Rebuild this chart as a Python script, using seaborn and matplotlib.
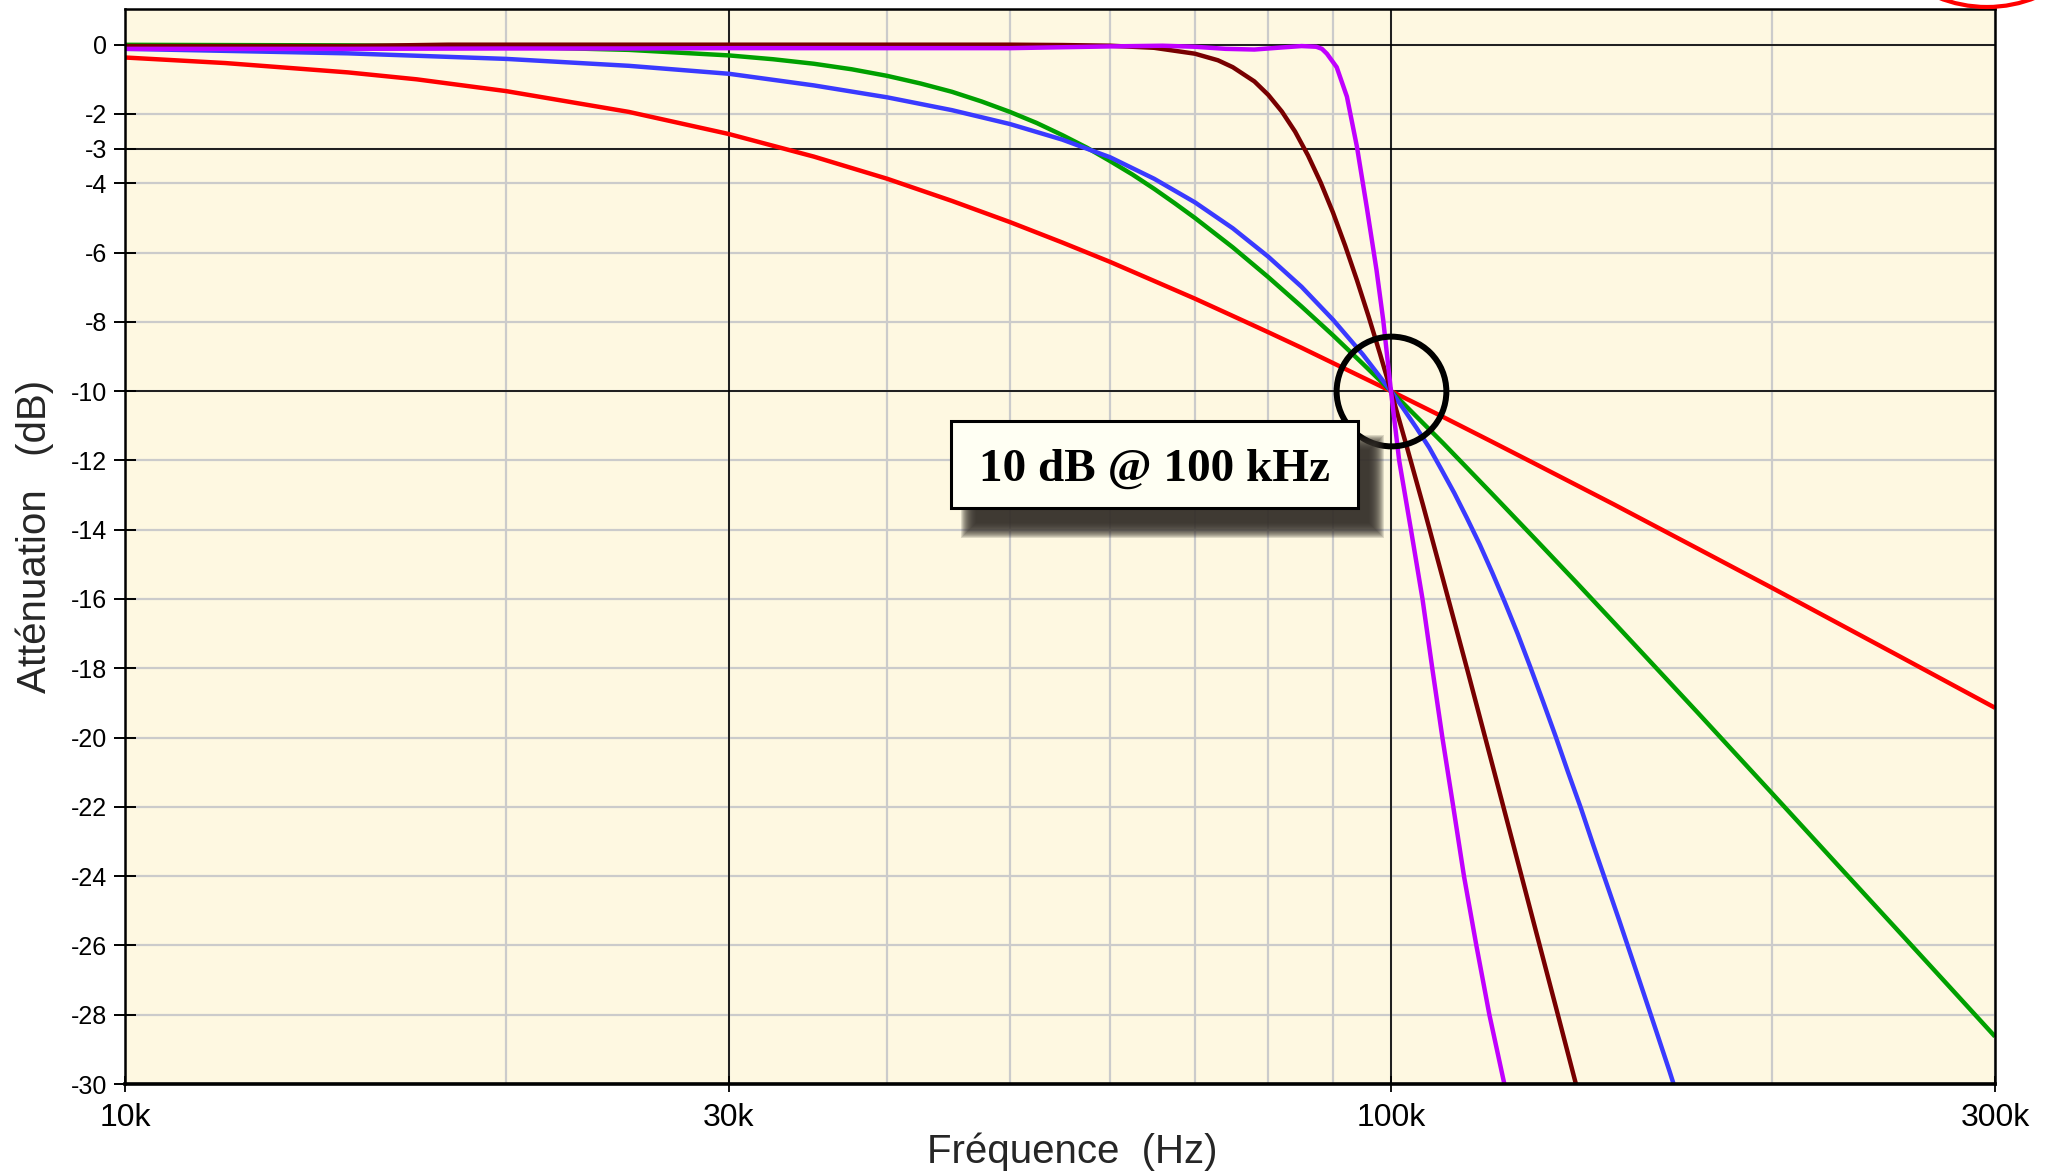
import numpy as np
import pandas as pd
import matplotlib
matplotlib.use("Agg")
import matplotlib.pyplot as plt
import seaborn as sns
from matplotlib.patches import Rectangle, Circle
from matplotlib.ticker import FixedLocator, NullFormatter, FixedFormatter

# ---------------- data (frequency in kHz, attenuation in dB) ----------------
red_f = [10, 12, 15, 17, 20, 25, 30, 35, 40, 45, 50, 55, 60, 65, 70, 75, 80, 85, 90,
         100, 110, 120, 130, 150, 175, 200, 250, 300]
red_db = [-0.37, -0.53, -0.80, -1.00, -1.34, -1.94, -2.58, -3.23, -3.87, -4.51, -5.12,
          -5.71, -6.27, -6.82, -7.33, -7.83, -8.30, -8.75, -9.19,
          -10.0, -10.75, -11.45, -12.10, -13.27, -14.56, -15.68, -17.58, -19.14]

green_f = [10, 15, 20, 25, 30, 32.5, 35, 37.5, 40, 42.5, 45, 47.5, 50, 52.5, 55, 57.5,
           60, 62.5, 65, 67.5, 70, 75, 80, 85, 90, 95,
           100, 110, 120, 130, 140, 150, 160, 175, 200, 225, 250, 275, 300]
green_db = [-0.004, -0.02, -0.06, -0.15, -0.31, -0.42, -0.55, -0.71, -0.90, -1.12,
            -1.36, -1.64, -1.94, -2.26, -2.61, -2.97, -3.36, -3.75, -4.16, -4.58,
            -5.00, -5.85, -6.71, -7.56, -8.39, -9.21,
            -10.0, -11.51, -12.94, -14.27, -15.51, -16.68, -17.78, -19.31, -21.61,
            -23.65, -25.47, -27.12, -28.63]

blue_f = [10, 15, 20, 25, 30, 35, 40, 45, 50, 55, 60, 65, 70, 75, 80, 85, 90, 95,
          100, 102.3, 104.7, 107.2, 109.6, 112.2, 114.8, 117.5, 120.2, 123.0, 125.9,
          128.8, 131.8, 134.9, 138.0, 141.3, 144.5, 147.9, 151.4, 154.9, 158.5, 162.2,
          166.0, 167.2]
blue_db = [-0.12, -0.25, -0.41, -0.61, -0.84, -1.175, -1.52, -1.89, -2.29, -2.74,
           -3.25, -3.87, -4.55, -5.30, -6.12, -6.99, -7.94, -8.94,
           -10.0, -10.51, -11.05, -11.63, -12.26, -12.94, -13.66, -14.42, -15.23,
           -16.09, -17.00, -17.95, -18.94, -19.96, -21.00, -22.05, -23.11, -24.18,
           -25.26, -26.34, -27.43, -28.53, -29.64, -30.0]

brown_f = [10, 15, 18, 30, 40, 50, 55, 60, 65, 70, 73, 75, 78, 80, 82, 84, 86, 88,
           90, 92, 94, 96, 98, 100, 103, 106, 110, 115, 120, 125, 130, 135, 141]
brown_db = [-0.04, -0.04, 0.0, 0.0, 0.0, 0.0, -0.01, -0.03, -0.09, -0.26, -0.45,
            -0.65, -1.06, -1.45, -1.93, -2.51, -3.20, -3.98, -4.85, -5.80, -6.80,
            -7.84, -8.91, -10.0, -11.65, -13.29, -15.47, -18.10, -20.66, -23.13,
            -25.51, -27.79, -30.44]

purple_f = [10, 15, 20, 25, 30, 40, 50, 60, 66, 70, 74, 78, 82, 85, 87.3, 88.2, 89,
            90.6, 92.3, 94, 95.7, 97.4, 98.6, 100, 101.5, 103.7, 105.9, 107.8, 109.8,
            112.0, 114.2, 116.8, 119.6, 122.9]
purple_db = [-0.12, -0.12, -0.11, -0.11, -0.10, -0.10, -0.10, -0.05, -0.03, -0.06,
             -0.12, -0.14, -0.08, -0.04, -0.06, -0.12, -0.26, -0.65, -1.50, -2.95,
             -4.70, -6.50, -7.95, -10.0, -12.0, -14.0, -16.0, -18.0, -20.0, -22.0,
             -24.0, -26.0, -28.0, -30.0]

series_names = ["rouge", "vert", "bleu", "marron", "violet"]
series_colors = ["#ff0000", "#00a000", "#3a3aff", "#780000", "#c000ff"]

x_ticks = [10, 30, 100, 300]
x_ticklabels = ["10k", "30k", "100k", "300k"]
x_minor = [20, 40, 50, 60, 70, 80, 90, 200]
y_ticks = [0, -2, -3, -4, -6, -8, -10, -12, -14, -16, -18, -20, -22, -24, -26, -28, -30]
y_ticklabels = [str(v) for v in y_ticks]
x_major_lines = [30, 100]
y_major_lines = [0, -3, -10]
annot_text = "10 dB @ 100 kHz"
annot_point = (100, -10)

# ---------------- figure ----------------
sns.set_style("ticks")
plt.rcParams['font.family'] = ['Liberation Sans', 'DejaVu Sans']
plt.rcParams['axes.unicode_minus'] = False

W, H = 2057, 1174
fig = plt.figure(figsize=(W / 100, H / 100), dpi=100)
fig.patch.set_facecolor("white")
L, R, T, B = 125, 1995, 9, 1084
ax = fig.add_axes([L / W, 1 - B / H, (R - L) / W, (B - T) / H])
ax.set_facecolor("#fef8e1")

frames = []
for name, f, v in zip(series_names,
                      [red_f, green_f, blue_f, brown_f, purple_f],
                      [red_db, green_db, blue_db, brown_db, purple_db]):
    frames.append(pd.DataFrame({"f": f, "dB": v, "serie": name}))
df = pd.concat(frames, ignore_index=True)

ax.set_xscale("log")
sns.lineplot(data=df, x="f", y="dB", hue="serie", hue_order=series_names,
             palette=dict(zip(series_names, series_colors)), estimator=None,
             sort=False, lw=3.2, legend=False, ax=ax, zorder=3)
for ln in ax.get_lines():
    ln.set_solid_joinstyle("round")
    ln.set_solid_capstyle("butt")

ax.set_xlim(10, 300)
ax.set_ylim(-30, 1.03)

# ticks
ax.xaxis.set_major_locator(FixedLocator(x_ticks))
ax.xaxis.set_major_formatter(FixedFormatter(x_ticklabels))
ax.xaxis.set_minor_locator(FixedLocator(x_minor))
ax.xaxis.set_minor_formatter(NullFormatter())
ax.set_yticks(y_ticks)
ax.set_yticklabels(y_ticklabels)
ax.tick_params(axis="x", which="major", direction="inout", length=11.5, width=1.3,
               labelsize=23, pad=8, colors="black")
ax.tick_params(axis="x", which="minor", length=0)
ax.tick_params(axis="y", which="major", direction="inout", length=16, width=1.4,
               labelsize=18, pad=5, colors="black")

# grid
ax.set_axisbelow(True)
ax.grid(True, which="both", color="#cbcbcb", lw=1.6)
for xv in x_major_lines:
    ax.axvline(xv, color="black", lw=1.2, zorder=1.5)
for yv in y_major_lines:
    ax.axhline(yv, color="black", lw=1.2, zorder=1.5)

for side in ["left", "top", "right"]:
    ax.spines[side].set_linewidth(1.8)
    ax.spines[side].set_color("black")
ax.spines["bottom"].set_linewidth(2.6)
ax.spines["bottom"].set_color("black")
for s in ax.spines.values():
    s.set_zorder(10)

# labels
ax.set_xlabel("Fréquence  (Hz)", fontsize=29, va="baseline")
ax.xaxis.set_label_coords(0.5067, -0.0735)
ax.set_ylabel("Atténuation   (dB)", fontsize=29)
ax.yaxis.set_label_coords(-0.0382, 0.5098)

# circle at the -10 dB / 100 kHz point
ax.plot([annot_point[0]], [annot_point[1]], marker="o", markersize=79,
        markerfacecolor="none", markeredgecolor="black", markeredgewidth=4.3,
        zorder=4, clip_on=False)

# annotation box with blurred shadow (figure pixel coordinates)
def px_rect(x0, y0, x1, y1, **kw):
    return Rectangle((x0 / 100, (H - y1) / 100), (x1 - x0) / 100, (y1 - y0) / 100,
                     transform=fig.dpi_scale_trans, **kw)

bx0, by0, bx1, by1 = 951, 421, 1358, 508
sx, sy = 18, 22
for k in range(8, -8, -1):
    fig.add_artist(px_rect(bx0 + sx - k, by0 + sy - k, bx1 + sx + k, by1 + sy + k,
                           facecolor="#36312b", edgecolor="none", alpha=0.16,
                           zorder=5))
fig.add_artist(px_rect(bx0, by0, bx1, by1, facecolor="#fffff3", edgecolor="black",
                       lw=2.2, zorder=6))
fig.text((bx0 + bx1) / 2 / W, 1 - 481 / H, annot_text, ha="center", va="baseline",
         fontsize=34, fontweight="bold", family=["Liberation Serif", "DejaVu Serif"],
         color="black", zorder=7)

# partial red circle at the top-right corner
fig.add_artist(Circle((1987 / 100, (H + 123) / 100), 1.30, transform=fig.dpi_scale_trans,
                      fill=False, edgecolor="red", lw=3, zorder=8))

fig.savefig("out.png", dpi=100, facecolor="white")
